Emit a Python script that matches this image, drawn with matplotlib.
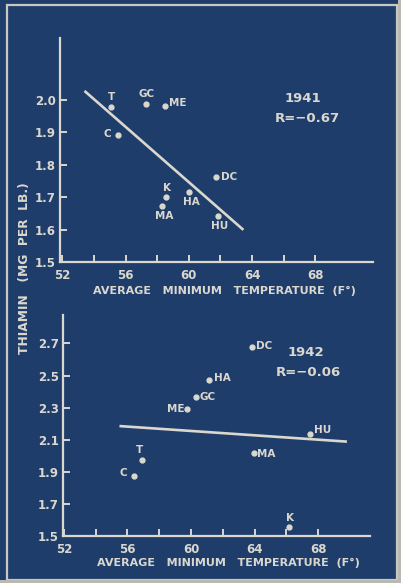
import matplotlib
matplotlib.use("Agg")
import matplotlib.pyplot as plt
from matplotlib.patches import Rectangle

# colours of the photographed slide
bg = "#1f3d6b"
fg = "#dad8ce"
edge = "#c9c8bf"

# 1941 panel
labels_41 = ["T", "GC", "ME", "C", "DC", "K", "HA", "MA", "HU"]
temp_41 = [55.1, 57.3, 58.5, 55.5, 61.7, 58.55, 60.0, 58.3, 61.85]
thiamin_41 = [1.976, 1.988, 1.981, 1.89, 1.761, 1.70, 1.715, 1.673, 1.641]
fit_x_41 = [53.4, 63.45]
fit_y_41 = [2.027, 1.599]

# 1942 panel
labels_42 = ["DC", "HA", "GC", "ME", "HU", "MA", "T", "C", "K"]
temp_42 = [63.85, 61.1, 60.3, 59.75, 67.5, 63.95, 56.9, 56.4, 66.15]
thiamin_42 = [2.676, 2.472, 2.368, 2.289, 2.136, 2.015, 1.973, 1.874, 1.554]
fit_x_42 = [55.5, 69.8]
fit_y_42 = [2.185, 2.088]

xticks = [52, 54, 56, 58, 60, 62, 64, 66, 68]
yticks_41 = [1.5, 1.6, 1.7, 1.8, 1.9, 2.0]
yticks_42 = [1.5, 1.7, 1.9, 2.1, 2.3, 2.5, 2.7]

# label offsets in pixels (dx, dy, ha)
off_41 = {"T": (0, 10, "center"), "GC": (0, 10, "center"), "ME": (4, 3, "left"),
          "C": (-7, 1, "right"), "DC": (5, 0, "left"), "K": (1, 9, "center"),
          "HA": (3, -10, "center"), "MA": (2, -10, "center"), "HU": (2, -10, "center")}
off_42 = {"DC": (4, 1, "left"), "HA": (5, 2, "left"), "GC": (4, 0, "left"),
          "ME": (-3, 0, "right"), "HU": (4, 4, "left"), "MA": (3, -1, "left"),
          "T": (-2, 10, "center"), "C": (-7, 3, "right"), "K": (1, 9, "center")}

W, H = 401, 583
plt.rcParams["font.family"] = ["DejaVu Sans"]
fig = plt.figure(figsize=(W / 100, H / 100), dpi=100, facecolor=bg)


def px(x, y):
    return x / W, 1 - y / H


def panel(rect, xlim, ylim, yticks, xs, ys, names, offs, fx, fy, xlab_pos):
    ax = fig.add_axes(rect)
    ax.set_facecolor("none")
    ax.set_xlim(*xlim)
    ax.set_ylim(*ylim)
    for s in ["top", "right"]:
        ax.spines[s].set_visible(False)
    for s in ["left", "bottom"]:
        ax.spines[s].set_color(fg)
        ax.spines[s].set_linewidth(1.6)
    ax.set_xticks(xticks)
    ax.set_xticklabels([str(t) if t % 4 == 0 else "" for t in xticks])
    ax.set_yticks(yticks)
    ax.set_yticklabels(["{:.1f}".format(t) for t in yticks])
    ax.tick_params(direction="in", length=5, width=1.4, color=fg, labelcolor=fg,
                   labelsize=8.5, pad=3)
    ax.tick_params(axis="x", pad=5)
    for t in ax.get_xticklabels() + ax.get_yticklabels():
        t.set_fontweight("bold")
    ax.plot(fx, fy, color=fg, lw=1.9, solid_capstyle="butt")
    ax.plot(xs, ys, "o", color=fg, ms=3.5, clip_on=False)
    for n, x, y in zip(names, xs, ys):
        dx, dy, ha = offs[n]
        ax.annotate(n, (x, y), xytext=(dx, dy), textcoords="offset pixels",
                    ha=ha, va="center", color=fg, fontsize=7.5, fontweight="bold")
    ax.set_xlabel("AVERAGE   MINIMUM   TEMPERATURE  (F°)", color=fg, fontsize=8,
                  fontweight="bold")
    ax.xaxis.set_label_coords(*xlab_pos)
    return ax


l, b = px(60, 262)
r, t = px(373, 38)
panel([l, b, r - l, t - b], (51.85, 71.65), (1.5, 2.19), yticks_41,
      temp_41, thiamin_41, labels_41, off_41, fit_x_41, fit_y_41, (0.524, -0.105))

l, b = px(63, 536)
r, t = px(370, 315)
panel([l, b, r - l, t - b], (51.95, 71.25), (1.5, 2.877), yticks_42,
      temp_42, thiamin_42, labels_42, off_42, fit_x_42, fit_y_42, (0.54, -0.097))

fig.text(*px(303, 99), "1941", color=fg, fontsize=9.5, fontweight="bold",
         ha="center", va="center")
fig.text(*px(307, 118), "R=−0.67", color=fg, fontsize=9.5, fontweight="bold",
         ha="center", va="center")
fig.text(*px(306, 353), "1942", color=fg, fontsize=9.5, fontweight="bold",
         ha="center", va="center")
fig.text(*px(308, 373), "R=−0.06", color=fg, fontsize=9.5, fontweight="bold",
         ha="center", va="center")

fig.text(*px(25, 268), "THIAMIN   (MG  PER  LB.)", color=fg, fontsize=8.8,
         fontweight="bold", rotation=90, ha="center", va="center")

# slide frame
fig.patches.append(Rectangle(px(7, 580), (397 - 7) / W, (580 - 5) / H,
                             transform=fig.transFigure, fill=False,
                             edgecolor=edge, lw=1.6))
fig.patches.append(Rectangle(px(398, 583), 3 / W, 1, transform=fig.transFigure,
                             color="#b9b9b2", lw=0))
fig.patches.append(Rectangle(px(0, 583), 1, 3 / H, transform=fig.transFigure,
                             color="#b9b9b2", lw=0))
fig.text(*px(200, 3), "PLATE II", color=fg, fontsize=10, fontweight="bold",
         ha="center", va="bottom")

fig.savefig("out.png", dpi=100, facecolor=bg)
